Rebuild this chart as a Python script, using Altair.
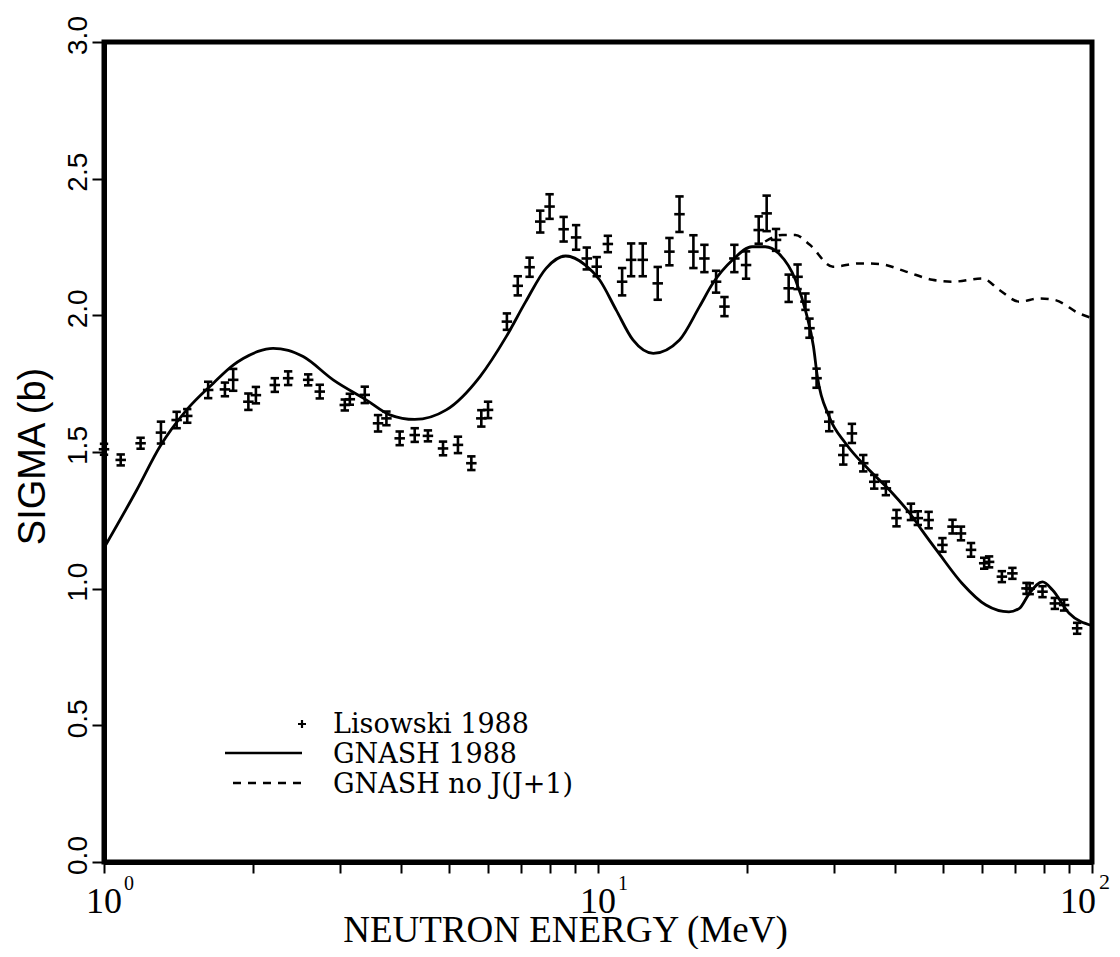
import altair as alt
import pandas as pd

# ---- Lisowski 1988 measured points (MeV, barns, error) ----
exp_e = [1.0, 1.081, 1.186, 1.304, 1.403, 1.474, 1.625, 1.757, 1.826, 1.96,
         2.03, 2.217, 2.359, 2.59, 2.734, 3.072, 3.145, 3.372, 3.587, 3.73,
         3.968, 4.256, 4.526, 4.856, 5.206, 5.541, 5.805, 5.99, 6.54, 6.88,
         7.27, 7.64, 7.98, 8.52, 9.03, 9.49, 9.94, 10.47, 11.19, 11.67,
         12.32, 13.21, 13.95, 14.62, 15.60, 16.42, 17.34, 18.03, 18.88, 19.94,
         21.15, 21.95, 22.93, 24.32, 25.35, 26.3, 26.8, 27.7, 29.38, 31.37,
         32.66, 34.43, 36.24, 38.26, 40.2, 43.0, 44.4, 46.7, 49.8, 52.2,
         54.3, 56.9, 60.5, 61.9, 65.7, 69.0, 73.7, 74.8, 79.4, 84.1,
         87.8, 93.3]
exp_s = [1.51, 1.471, 1.532, 1.571, 1.617, 1.632, 1.727, 1.729, 1.764, 1.684,
         1.708, 1.745, 1.770, 1.764, 1.721, 1.672, 1.693, 1.709, 1.605, 1.623,
         1.550, 1.562, 1.559, 1.513, 1.526, 1.459, 1.623, 1.654, 1.977, 2.108,
         2.176, 2.343, 2.398, 2.315, 2.285, 2.208, 2.178, 2.261, 2.123, 2.203,
         2.203, 2.117, 2.233, 2.370, 2.233, 2.208, 2.123, 2.032, 2.208, 2.184,
         2.312, 2.373, 2.276, 2.099, 2.141, 2.05, 1.953, 1.770, 1.611, 1.489,
         1.568, 1.459, 1.391, 1.367, 1.258, 1.281, 1.258, 1.251, 1.160, 1.227,
         1.202, 1.142, 1.093, 1.098, 1.044, 1.056, 1.001, 1.00, 0.989, 0.946,
         0.940, 0.855]
exp_err = [0.02, 0.02, 0.02, 0.04, 0.03, 0.025, 0.03, 0.025, 0.04, 0.03,
           0.03, 0.025, 0.025, 0.02, 0.025, 0.02, 0.02, 0.03, 0.03, 0.025,
           0.025, 0.025, 0.02, 0.025, 0.03, 0.025, 0.03, 0.03, 0.03, 0.035,
           0.035, 0.04, 0.045, 0.045, 0.045, 0.04, 0.035, 0.03, 0.05, 0.06,
           0.06, 0.06, 0.05, 0.065, 0.06, 0.05, 0.04, 0.035, 0.05, 0.05,
           0.05, 0.065, 0.04, 0.05, 0.045, 0.03, 0.035, 0.035, 0.035, 0.035,
           0.035, 0.03, 0.025, 0.025, 0.03, 0.03, 0.025, 0.03, 0.025, 0.025,
           0.025, 0.025, 0.02, 0.02, 0.02, 0.02, 0.02, 0.02, 0.02, 0.02,
           0.02, 0.02]

# ---- GNASH 1988 (solid) ----
gnash_e = [1.0, 1.165, 1.298, 1.47, 1.663, 1.826, 1.913, 2.05, 2.199, 2.36,
           2.53, 2.91, 3.40, 3.79, 4.256, 4.93, 5.77, 6.52, 7.14,
           7.85, 8.60, 9.43, 10.07, 10.88, 11.77, 12.94, 14.62, 16.05, 17.08,
           18.74, 20.5, 21.8, 23.2, 25.1, 26.4, 27.3, 27.8, 29.38, 31.7,
           35.4, 38.9, 43.3, 45.2, 49.0, 54.6, 61.0, 67.9, 71.3, 74.7,
           79.4, 83.2, 89.9, 100.0]
gnash_s = [1.149, 1.361, 1.520, 1.654, 1.751, 1.818, 1.842, 1.868, 1.879, 1.872,
           1.849, 1.764, 1.690, 1.636, 1.619, 1.654, 1.776, 1.922, 2.050,
           2.172, 2.217, 2.184, 2.130, 2.020, 1.910, 1.861, 1.910, 2.032, 2.117,
           2.203, 2.251, 2.251, 2.227, 2.130, 2.007, 1.886, 1.776, 1.629, 1.532,
           1.434, 1.361, 1.263, 1.215, 1.129, 1.019, 0.940, 0.915, 0.928, 0.983,
           1.025, 0.995, 0.910, 0.865]

# ---- GNASH no J(J+1) (dashed) ----
nojj_e = [21.8, 23.6, 25.1, 26.8, 29.9, 33.8, 37.1, 42.0, 47.5, 52.2,
          60.0, 64.9, 71.3, 78.4, 84.2, 94.2, 100.0]
nojj_s = [2.27, 2.294, 2.294, 2.259, 2.178, 2.190, 2.188, 2.160, 2.130, 2.123,
          2.135, 2.093, 2.050, 2.062, 2.056, 2.007, 1.99]

# ---- axis text ----
y_ticks = [0.0, 0.5, 1.0, 1.5, 2.0, 2.5, 3.0]
x_ticks = [1, 2, 3, 4, 5, 6, 7, 8, 9, 10, 20, 30, 40, 50, 60, 70, 80, 90, 100]
decade_pos = [1, 10, 100]
decade_base = ["10", "10", "10"]
decade_exp = ["0", "1", "2"]
legend_labels = ["Lisowski 1988", "GNASH 1988", "GNASH no J(J+1)"]

W, H = 988, 820
SERIF = "DejaVu Serif"
TIMES = "Liberation Serif"
SANS = "Liberation Sans"

exp_df = pd.DataFrame({"E": exp_e, "S": exp_s, "err": exp_err})
exp_df["lo"] = exp_df["S"] - exp_df["err"]
exp_df["hi"] = exp_df["S"] + exp_df["err"]
gnash_df = pd.DataFrame({"E": gnash_e, "S": gnash_s})
nojj_df = pd.DataFrame({"E": nojj_e, "S": nojj_s})
dec_df = pd.DataFrame({"E": decade_pos, "base": decade_base, "exp": decade_exp})
one = pd.DataFrame({"k": [0]})

xs = alt.Scale(type="log", domain=[1, 100], nice=False)
ys = alt.Scale(domain=[0, 3], nice=False, zero=False)

x_axis = alt.Axis(values=x_ticks, labels=False, grid=False, ticks=True,
                  tickSize=11, tickWidth=2, tickColor="black",
                  domainWidth=5, domainColor="black",
                  title="NEUTRON ENERGY (MeV)", titleFont=TIMES, titleFontSize=37,
                  titleFontWeight="normal", titleColor="black",
                  titleX=461, titleY=79, titleAlign="center",
                  titleBaseline="alphabetic")
y_axis = alt.Axis(values=y_ticks, format=".1f", grid=False,
                  tickSize=12, tickWidth=2, tickColor="black",
                  domainWidth=5, domainColor="black",
                  labelFont=SANS, labelFontSize=28, labelColor="black",
                  labelAngle=270, labelAlign="center", labelBaseline="alphabetic",
                  labelPadding=6, labelOffset=-7, labelFlush=False, labelOverlap=False,
                  title="SIGMA (b)", titleFont=SANS, titleFontSize=38,
                  titleFontWeight="normal", titleColor="black",
                  titleAngle=270, titleX=-71, titleY=414,
                  titleAlign="center", titleBaseline="middle")

X = alt.X("E:Q", scale=xs, axis=x_axis)
Y = alt.Y("S:Q", scale=ys, axis=y_axis)

plus_path = "M-1,0L1,0M0,-1L0,1"
dash_path = "M-1,0L1,0"

bars = alt.Chart(exp_df).mark_rule(color="black", strokeWidth=2.6).encode(
    x=X, y=alt.Y("lo:Q", scale=ys, axis=y_axis), y2="hi:Q")
cap_lo = alt.Chart(exp_df).mark_point(shape=dash_path, size=70, filled=False,
                                       stroke="black", strokeWidth=2.6, opacity=1).encode(
    x=X, y=alt.Y("lo:Q", scale=ys, axis=y_axis))
cap_hi = alt.Chart(exp_df).mark_point(shape=dash_path, size=70, filled=False,
                                       stroke="black", strokeWidth=2.6, opacity=1).encode(
    x=X, y=alt.Y("hi:Q", scale=ys, axis=y_axis))
center = alt.Chart(exp_df).mark_point(shape=dash_path, size=110, filled=False,
                                       stroke="black", strokeWidth=2.6, opacity=1).encode(
    x=X, y=Y)

solid = alt.Chart(gnash_df).mark_line(color="black", strokeWidth=2.8,
                                      interpolate="monotone").encode(x=X, y=Y)
dashed = alt.Chart(nojj_df).mark_line(color="black", strokeWidth=2.5,
                                      strokeDash=[8, 7], interpolate="monotone").encode(x=X, y=Y)

dec_base_a = alt.Chart(dec_df).transform_filter("datum.E < 50").mark_text(
    font=TIMES, fontSize=36, color="black", align="center", baseline="alphabetic").encode(
    x=X, y=alt.value(871), text="base:N")
dec_base_b = alt.Chart(dec_df).transform_filter("datum.E > 50").mark_text(
    font=TIMES, fontSize=36, color="black", align="center", baseline="alphabetic", dx=-14).encode(
    x=X, y=alt.value(871), text="base:N")
dec_exp_a = alt.Chart(dec_df).transform_filter("datum.E < 50").mark_text(
    font=TIMES, fontSize=20, color="black", align="left", baseline="alphabetic", dx=20).encode(
    x=X, y=alt.value(848), text="exp:N")
dec_exp_b = alt.Chart(dec_df).transform_filter("datum.E > 50").mark_text(
    font=TIMES, fontSize=22, color="black", align="left", baseline="alphabetic", dx=7).encode(
    x=X, y=alt.value(847), text="exp:N")

# ---- legend (drawn inside the plot, lower left) ----
leg_plus = alt.Chart(one).mark_point(shape=plus_path, size=64, filled=False,
                                     stroke="black", strokeWidth=2.2, opacity=1).encode(
    x=alt.value(198), y=alt.value(682))
leg_solid = alt.Chart(one).mark_rule(color="black", strokeWidth=2.5).encode(
    x=alt.value(121), x2=alt.value(198), y=alt.value(711))
leg_dash = alt.Chart(one).mark_rule(color="black", strokeWidth=2.5, strokeDash=[8, 7]).encode(
    x=alt.value(129), x2=alt.value(198), y=alt.value(741))
leg_texts = [
    alt.Chart(one).mark_text(font=SERIF, fontSize=27, color="black",
                             align="left", baseline="alphabetic").encode(
        x=alt.value(229), y=alt.value(691 + 30 * i), text=alt.value(lbl))
    for i, lbl in enumerate(legend_labels)
]

chart = alt.layer(
    solid, dashed, bars, cap_lo, cap_hi, center,
    dec_base_a, dec_base_b, dec_exp_a, dec_exp_b,
    leg_plus, leg_solid, leg_dash, *leg_texts,
).properties(
    width=W, height=H,
    background="white",
    autosize=alt.AutoSizeParams(type="none"),
    padding={"left": 96, "top": 34, "right": 20, "bottom": 87},
).configure_view(stroke="black", strokeWidth=5)

chart.save("out.html", embed_options={"renderer": "svg", "actions": False})
